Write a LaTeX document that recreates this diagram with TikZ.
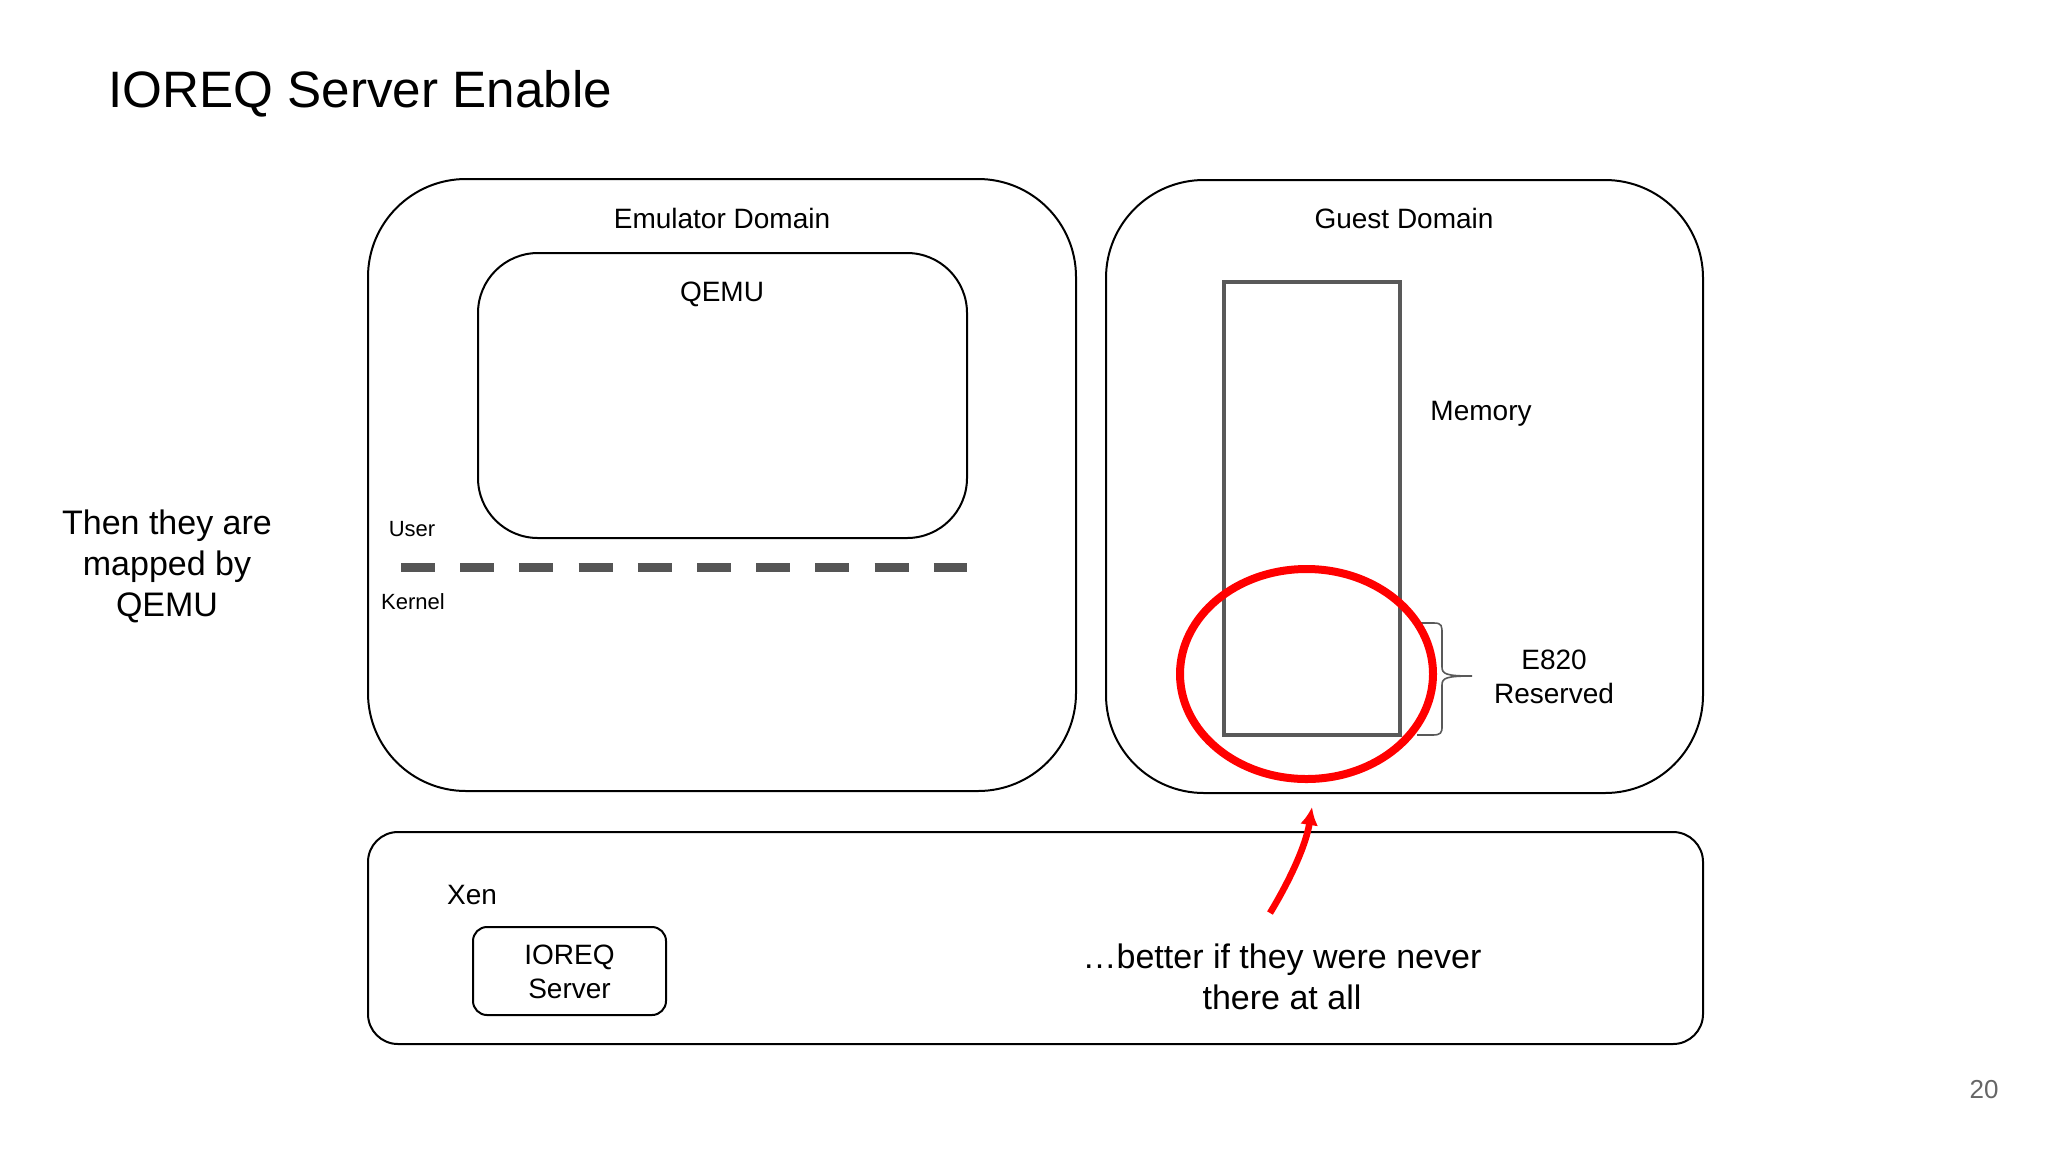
\documentclass[tikz,border=0pt]{standalone}
\usepackage{fontspec}
\setmainfont{Liberation Sans}
\usetikzlibrary{arrows.meta,shapes.geometric}
\definecolor{memgray}{HTML}{595959}
\definecolor{dashgray}{HTML}{555555}
\definecolor{pagegray}{HTML}{666666}
\definecolor{hlred}{HTML}{FF0000}
\tikzset{
  domainbox/.style={draw=black, line width=1pt, rounded corners=#1, inner sep=0pt},
  lbl/.style={inner sep=0pt, anchor=base, font=\fontsize{14}{17}\selectfont},
  multilbl/.style={inner sep=0pt, align=center, font=\fontsize{14}{17}\selectfont},
  smalllbl/.style={inner sep=0pt, anchor=base, font=\fontsize{11}{13}\selectfont},
  bigtxt/.style={inner sep=0pt, align=center, font=\fontsize{17}{20.5}\selectfont},
}
\begin{document}
\begin{tikzpicture}[x=0.5pt,y=-0.5pt]
\useasboundingbox[fill=white] (0,0) rectangle (2048,1152);

% title
\node[inner sep=0pt, anchor=base west, font=\fontsize{25.6}{30}\selectfont] (title) at (108,107) {IOREQ Server Enable};

% side text
\node[bigtxt] (sidetext) at (167,566) {Then they are\\mapped by\\QEMU};

% emulator domain
\node[domainbox=49pt, minimum width=354pt, minimum height=306pt] (emu) at (722,485) {};
\node[lbl] (emulabel) at (722,228.5) {Emulator Domain};
\node[domainbox=30pt, minimum width=244.5pt, minimum height=142.5pt] (qemu) at (722.5,395.5) {};
\node[lbl] (qemulabel) at (722,301) {QEMU};
\node[smalllbl] (user) at (412,536) {User};
\node[smalllbl] (kernel) at (413,609) {Kernel};
\coordinate (dashL) at (401,567);
\coordinate (dashR) at (967,567);
\draw[dashgray, line width=4.5pt, dash pattern=on 17pt off 12.6pt] (dashL) -- (dashR);

% guest domain
\node[domainbox=49pt, minimum width=298.5pt, minimum height=306.5pt] (guest) at (1404.5,486.5) {};
\node[lbl] (guestlabel) at (1404,228.5) {Guest Domain};
\node[draw=memgray, line width=2pt, inner sep=0pt, minimum width=88pt, minimum height=226.5pt] (memory) at (1312,508.5) {};
\node[lbl] (memlabel) at (1481,420.5) {Memory};

% brace
\coordinate (braceTop) at (1417,623);
\coordinate (braceBot) at (1417,735);
\coordinate (braceTip) at (1472,676);
\draw[memgray, line width=0.8pt]
  (braceTop) -- (1434,623) .. controls (1442,623) and (1442,626) .. (1442,634)
  -- (1442,667) .. controls (1442,674) and (1446,676) .. (braceTip)
  (braceTip) .. controls (1446,676) and (1442,678) .. (1442,685)
  -- (1442,726) .. controls (1442,733) and (1441,735) .. (1432,735) -- (braceBot);
\node[multilbl] (e820) at (1554,677) {E820\\Reserved};

% highlight
\node[ellipse, draw=hlred, line width=4pt, inner sep=0pt, minimum width=126.5pt, minimum height=105pt] (highlight) at (1306.5,674) {};

% xen
\node[domainbox=15pt, minimum width=667.5pt, minimum height=106pt] (xen) at (1035.5,938) {};
\node[lbl] (xenlabel) at (472,904) {Xen};
\node[domainbox=7pt, minimum width=96.5pt, minimum height=44pt] (ioreq) at (569.5,971) {};
\node[multilbl] (ioreqlabel) at (569.5,972) {IOREQ\\Server};

% annotation
\node[bigtxt] (better) at (1282,977) {…better if they were never\\there at all};
\coordinate (arrowTail) at (1270,913);
\coordinate (arrowTip) at (1312,807);
\draw[hlred, line width=3.3pt, -{Latex[length=9pt,width=9pt]}]
  (arrowTail) .. controls (1290,880) and (1306,845) .. (arrowTip);

% page number
\node[inner sep=0pt, anchor=base, text=pagegray, font=\fontsize{13}{15}\selectfont] (pagenum) at (1984,1098) {20};
\end{tikzpicture}
\end{document}
